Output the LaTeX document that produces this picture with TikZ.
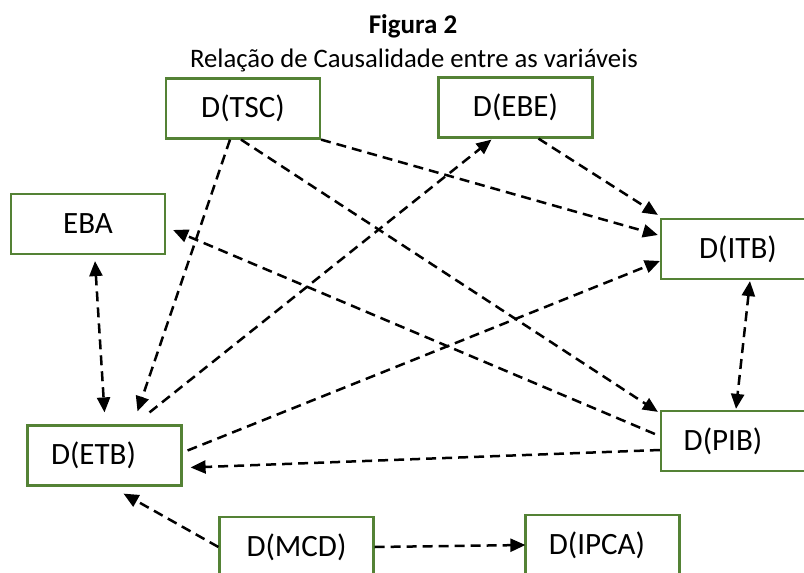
\documentclass[tikz,border=0pt]{standalone}
\usepackage{fontspec}
\setmainfont{Carlito}
\usetikzlibrary{arrows.meta}
\definecolor{boxgreen}{HTML}{548235}
\begin{document}
\begin{tikzpicture}[x=1pt,y=-1pt,
  var/.style={draw=boxgreen,line width=2.2pt,fill=white,minimum width=154pt,
    minimum height=60pt,inner sep=0pt,font=\fontsize{31}{34}\selectfont},
  link/.style={line width=2.5pt,dash pattern=on 10pt off 6pt,
    -{Triangle[length=15pt,width=13pt]}},
  both/.style={link,{Triangle[length=15pt,width=13pt]}-{Triangle[length=15pt,width=13pt]}}]
\useasboundingbox (0,0) rectangle (804,573);
\clip (0,0) rectangle (804,573);

% title
\node[anchor=base,font=\fontsize{27}{30}\selectfont\bfseries] (title) at (413,33) {Figura 2};
\node[anchor=base,font=\fontsize{26.7}{30}\selectfont] (subtitle) at (414,67) {Relação de Causalidade entre as variáveis};

% variables
\node[var] (tsc)  at (243,108.5) {D(TSC)};
\node[var] (ebe)  at (515.5,107.5) {D(EBE)};
\node[var] (eba)  at (88,224) {EBA};
\node[var] (itb)  at (738,249) {D(ITB)};
\node[var] (etb)  at (104.5,455.5) {\hspace*{-22pt}D(ETB)};
\node[var] (pib)  at (738,441) {\hspace*{-30pt}D(PIB)};
\node[var] (mcd)  at (296.5,547) {D(MCD)};
\node[var] (ipca) at (602.5,545) {\hspace*{-11pt}D(IPCA)};

% causal links
\draw[link] ([xshift=-13pt]tsc.south) -- ([xshift=33pt,yshift=13pt]etb.north);
\draw[link] ([xshift=-2pt]tsc.south) -- ([xshift=-2pt,yshift=-2pt]pib.north west);
\draw[link] (tsc.south east) -- ([xshift=-2pt,yshift=14pt]itb.west);
\draw[link] ([xshift=45pt,yshift=12pt]etb.north) -- ([xshift=-24pt,yshift=-1pt]ebe.south);
\draw[link] ([xshift=23pt]ebe.south) -- ([xshift=-2pt,yshift=3pt]itb.north west);
\draw[link] ([xshift=-5pt,yshift=7pt]pib.west) -- ([xshift=7pt,yshift=-6pt]eba.east);
\draw[link] ([xshift=5pt,yshift=5pt]etb.east) -- ([yshift=-12pt]itb.west);
\draw[both] ([xshift=7pt,yshift=-6pt]eba.south) -- ([yshift=12pt]etb.north);
\draw[both] ([xshift=12pt,yshift=-1pt]itb.south) -- ([xshift=-2pt,yshift=1pt]pib.north);
\draw[link] ([yshift=-9pt]pib.west) -- ([xshift=8pt,yshift=-12pt]etb.east);
\draw[link] (mcd.west) -- ([xshift=19pt,yshift=-7pt]etb.south);
\draw[link] (mcd.east) -- ([xshift=1pt]ipca.west);
\end{tikzpicture}
\end{document}
